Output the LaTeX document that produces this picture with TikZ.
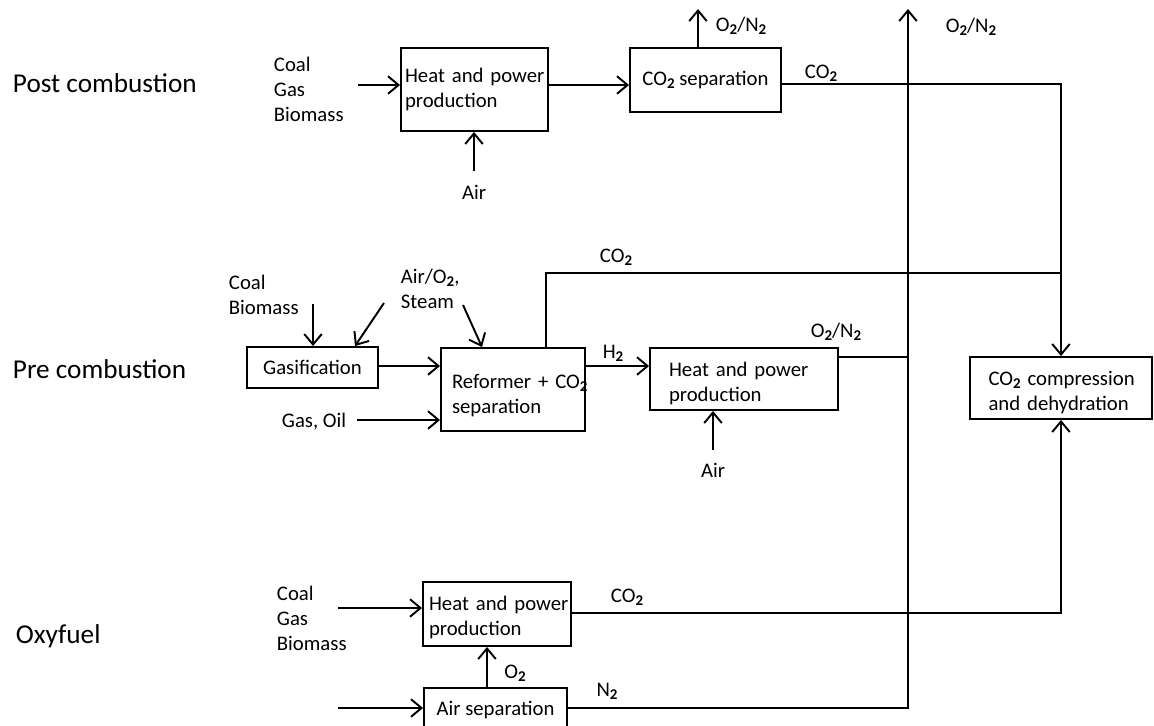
\documentclass[tikz,border=0pt]{standalone}
\usepackage{fontspec}
\setmainfont{Carlito}
\usetikzlibrary{arrows.meta,calc}
\newcommand\subtwo{\raisebox{-0.3ex}{\fontsize{8.5pt}{8.5pt}\selectfont\bfseries 2}}
\newcommand\lowerby[1]{\rule{0pt}{\dimexpr 8.3pt+2\dimexpr #1\relax\relax}}
\begin{document}
\begin{tikzpicture}[x=0.02cm, y=-0.02cm, line width=1.1pt,
  box/.style={draw, rectangle, inner sep=0pt, font=\fontsize{11.8pt}{14.3pt}\selectfont},
  lbl/.style={inner sep=0pt, font=\fontsize{11.8pt}{14.3pt}\selectfont},
  head/.style={inner sep=0pt, anchor=west, font=\fontsize{15.5pt}{18pt}\selectfont},
  arr/.style={-{Straight Barb[length=6pt,width=10pt]}}]
\clip (0,0) rectangle (1154,725);
\fill[white] (0,0) rectangle (1154,725);

% boxes
\node[box, minimum width=2.94cm, minimum height=1.66cm, text width=2.78cm, align=left] (hp1) at (474.5,89.5) {\mbox{Heat and power}\\\mbox{production}};
\node[box, minimum width=3.02cm, minimum height=1.28cm] (sep) at (705.5,80) {CO\subtwo{} separation};
\node[box, minimum width=2.62cm, minimum height=0.82cm] (gas) at (312.5,367.5) {Gasification};
\node[box, minimum width=2.88cm, minimum height=1.66cm, text width=2.44cm, align=left] (ref) at (513,389.5) {\mbox{\lowerby{3.4pt}Reformer + CO\subtwo}\\\mbox{separation}};
\node[box, minimum width=3.76cm, minimum height=1.24cm, text width=3.0cm, align=left] (hp2) at (744,379) {\mbox{\lowerby{2.3pt}Heat and power}\\\mbox{production}};
\node[box, minimum width=3.64cm, minimum height=1.24cm, text width=2.9cm, align=left] (fin) at (1061,388) {\mbox{\lowerby{2.3pt}CO\subtwo{} compression}\\\mbox{and dehydration}};
\node[box, minimum width=2.96cm, minimum height=1.28cm, text width=2.72cm, align=left] (hp3) at (497,614) {\mbox{\lowerby{1.8pt}Heat and power}\\\mbox{production}};
\node[box, minimum width=2.86cm, minimum height=0.88cm] (asep) at (495.5,710) {Air separation};

% coordinates
\coordinate (i1) at (358,85);
\coordinate (a1) at (474,171);
\coordinate (o1) at (698,9);
\coordinate (j1) at (1061,84);
\coordinate (top) at (908,9);
\coordinate (cb) at (313,304);
\coordinate (d1) at (384,303);
\coordinate (d1e) at (355,347);
\coordinate (gi) at (380,366);
\coordinate (go) at (357,420);
\coordinate (d2) at (463,305);
\coordinate (d2e) at (482,348);
\coordinate (c2) at (546,273);
\coordinate (j2) at (1061,273);
\coordinate (h2) at (600,366);
\coordinate (a2) at (713,450);
\coordinate (j3) at (908,357);
\coordinate (i3) at (338,608);
\coordinate (j4) at (1061,613);
\coordinate (ox) at (487,680);
\coordinate (i4) at (338,708);
\coordinate (j5) at (908,708);

% connectors
\draw[arr] (i1) -- (i1 -| hp1.west);
\draw[arr] (i1 -| hp1.east) -- (i1 -| sep.west);
\draw[arr] (a1) -- (a1 |- hp1.south);
\draw[arr] (o1 |- sep.north) -- (o1);
\draw[arr] (j1 -| sep.east) -- (j1) -- (fin.north);
\draw[arr] (j5 -| asep.east) -- (j5) -- (top);
\draw[arr] (cb) -- (cb |- gas.north);
\draw[arr] (d1) -- (d1e |- gas.north);
\draw[arr] (gi -| gas.east) -- (gi -| ref.west);
\draw[arr] (go) -- (go -| ref.west);
\draw[arr] (d2) -- (d2e |- ref.north);
\draw (c2 |- ref.north) -- (c2) -- (j2);
\draw[arr] (h2 -| ref.east) -- (h2 -| hp2.west);
\draw[arr] (a2) -- (a2 |- hp2.south);
\draw (j3 -| hp2.east) -- (j3);
\draw[arr] (i3) -- (i3 -| hp3.west);
\draw[arr] (j4 -| hp3.east) -- (j4) -- (fin.south);
\draw[arr] (ox |- asep.north) -- (ox |- hp3.south);
\draw[arr] (i4) -- (i4 -| asep.west);

% labels
\node[head] (lpost) at (12,83) {Post combustion};
\node[head] (lpre) at (12,369) {Pre combustion};
\node[head] (loxy) at (15,636) {Oxyfuel};
\node[lbl, anchor=west, align=left] (f1) at (273,89.5) {Coal\\Gas\\Biomass};
\node[lbl] (air1) at (474,192) {Air};
\node[lbl, anchor=west] (on1) at (715,26) {O\subtwo/N\subtwo};
\node[lbl] (co1) at (821,73) {CO\subtwo};
\node[lbl] (on2) at (971,27) {O\subtwo/N\subtwo};
\node[lbl, anchor=west, align=left] (f2) at (228,294.5) {Coal\\Biomass};
\node[lbl, anchor=west, align=left] (f3) at (400,289) {Air/O\subtwo,\\Steam};
\node[lbl, anchor=west] (f4) at (281,422) {Gas, Oil};
\node[lbl] (co2) at (616,257) {CO\subtwo};
\node[lbl] (h2l) at (613,353) {H\subtwo};
\node[lbl] (air2) at (713,470) {Air};
\node[lbl] (on3) at (836,332) {O\subtwo/N\subtwo};
\node[lbl, anchor=west, align=left] (f5) at (276,618.5) {Coal\\Gas\\Biomass};
\node[lbl] (co3) at (627,597) {CO\subtwo};
\node[lbl] (o2l) at (515,673) {O\subtwo};
\node[lbl] (n2l) at (607,691) {N\subtwo};
\end{tikzpicture}
\end{document}
